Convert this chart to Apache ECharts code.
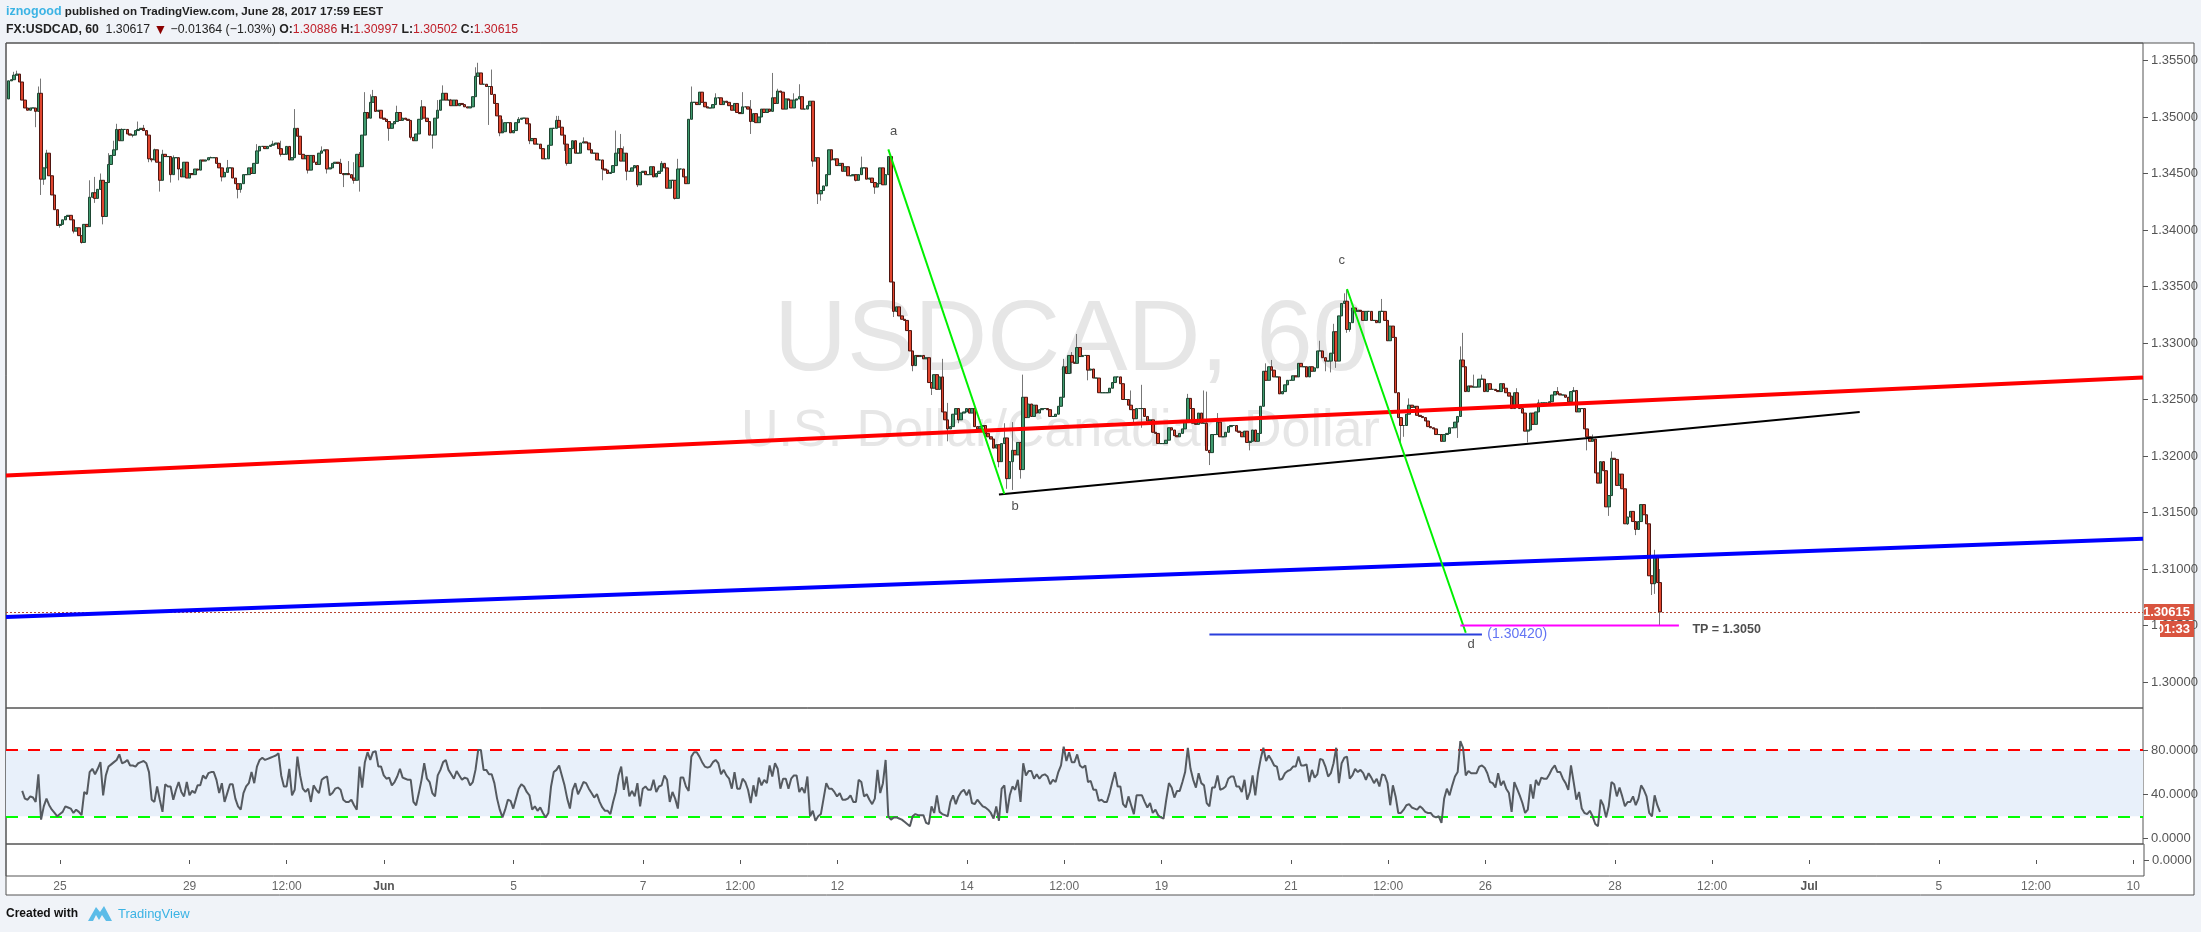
<!DOCTYPE html>
<html><head><meta charset="utf-8">
<style>html,body{margin:0;padding:0;background:#f0f3f8}#c{width:2201px;height:932px}</style>
<script src="https://cdn.jsdelivr.net/npm/echarts@6/dist/echarts.min.js"></script>
</head><body><div id="c"></div>
<script>
// All candle values are in pips above 1.3000 (1 pip = 0.0001), hourly bars from bar 1.
const pipBase = 1.3, pipSize = 0.0001;
const firstOpenPips = 516;
const closePips = [
532,533,537,538,531,515,508,506,508,508,
505,521,445,455,468,448,431,418,404,405,
409,412,413,409,399,402,395,389,405,403,
429,433,428,436,444,412,442,458,466,471,
489,479,489,489,485,484,484,488,489,490,
488,484,463,462,471,460,444,467,465,465,
449,464,464,454,447,460,446,450,449,454,
453,462,461,462,464,464,464,459,455,447,
451,455,455,446,441,436,441,449,449,455,
450,459,470,474,474,472,474,475,476,477,
472,467,467,474,462,464,490,483,467,463,
466,453,466,460,458,468,470,471,454,455,
459,460,459,450,449,450,449,446,444,467,
456,484,504,499,513,518,505,506,499,498,
496,490,494,496,504,497,499,498,497,482,
479,485,498,509,499,496,484,484,499,506,
515,521,515,515,510,515,510,512,511,509,
508,509,518,536,539,529,529,527,527,520,
512,501,486,487,495,495,486,488,495,498,
499,499,494,479,481,476,476,472,463,463,
475,490,490,497,491,484,476,459,472,479,
468,468,477,478,477,471,468,468,462,462,
454,453,450,451,457,468,472,461,468,452,
452,455,457,440,451,452,449,449,456,447,
450,452,459,455,437,444,444,428,454,454,
447,441,498,513,513,511,522,513,509,508,
508,511,517,517,511,514,513,510,506,512,
504,503,509,509,507,496,503,495,500,507,
504,507,505,517,512,523,522,507,516,515,
508,515,516,518,507,507,510,514,461,464,
432,435,439,449,471,462,463,457,459,452,
456,448,448,449,444,449,455,455,445,446,
442,438,441,455,440,449,465,354,328,332,
324,321,320,311,293,280,289,288,289,286,
287,265,260,272,259,270,239,232,224,226,
237,242,232,238,239,242,238,242,226,224,
226,227,220,217,215,207,210,195,211,216,
180,195,205,201,212,188,252,234,246,235,
245,238,241,242,242,241,235,235,237,244,
252,279,273,289,283,282,296,288,289,289,
276,277,269,269,256,256,256,256,260,265,
270,270,264,250,250,245,241,233,242,242,
242,235,231,232,221,220,211,211,211,214,
225,223,218,217,220,224,231,251,242,229,
228,238,229,229,205,203,219,219,230,217,
217,221,226,227,227,222,221,217,222,212,
213,223,213,220,244,275,267,279,276,270,
270,255,257,263,267,267,271,270,282,279,
279,270,279,275,278,293,293,287,284,284,
291,310,284,324,335,337,312,318,331,328,
329,328,320,328,328,320,320,318,328,328,
320,302,315,305,256,234,227,227,237,245,
243,244,236,235,234,231,226,225,224,219,
219,213,219,220,225,225,230,235,285,279,
257,262,261,261,261,268,268,257,264,259,
259,258,257,264,260,256,253,242,256,244,
242,238,222,223,238,228,239,247,247,247,
247,248,254,257,255,254,254,252,248,257,
258,239,242,242,224,217,213,215,185,176,
195,187,155,165,198,197,174,184,171,140,
146,151,142,135,142,157,148,140,94,87,
112,88,62];
// Visible wick tips, bar index : pips
const highPips = {3:540,4:541,12:527,13:534,15:471,31:444,33:447,35:450,38:468,40:479,41:494,43:490,49:496,51:493,55:472,58:471,62:466,76:465,82:462,93:476,99:479,102:479,107:507,108:490,117:474,124:463,127:461,129:460,131:469,133:522,135:520,136:524,145:510,154:515,160:515,162:528,165:516,174:544,175:548,180:542,184:498,190:500,204:501,205:501,214:482,226:488,228:485,229:474,243:461,249:463,254:527,257:522,263:521,273:522,276:515,284:539,286:525,292:521,294:529,317:465,347:286,349:247,370:229,373:230,377:272,392:286,395:292,397:308,417:258,421:263,438:255,444:258,445:257,449:238,467:282,469:285,487:302,492:317,496:344,497:347,510:339,520:251,539:297,540:309,544:272,547:272,560:260,568:250,575:261,581:261,588:219,595:204,611:117,613:100};
const lowPips = {11:491,13:431,14:440,20:402,25:397,28:388,33:424,36:405,38:450,47:482,53:460,54:460,57:434,61:442,64:444,80:443,86:428,87:433,102:465,112:450,119:450,125:438,129:441,131:434,142:479,150:480,152:480,158:472,179:493,183:483,194:476,207:470,208:457,221:444,230:444,234:438,248:427,276:485,299:456,301:423,302:426,315:443,322:432,329:323,336:275,343:254,349:213,353:229,363:214,368:190,371:171,373:170,376:180,395:273,401:267,418:228,421:225,446:192,461:205,489:275,491:274,493:278,497:309,498:310,517:210,518:217,538:216,564:212,586:205,594:147,601:139,604:130,610:77,611:78,613:50};

// RSI(7) readings: three runs, each with the bar index it starts at
const rsiRunAStart = 6;
const rsiRunA = [43,36,35,38,37,33,58,17,29,36,30,26,23,20,22,24,29,28,27,23,26,24,21,42,40,60,63,58,63,69,39,57,65,67,69,71,76,68,69,71,66,66,65,68,69,70,68,60,35,33,47,35,24,49,47,47,35,44,51,42,38,51,39,43,41,48,48,57,54,59,60,60,53,41,50,33,41,49,49,36,29,26,41,47,50,60,50,65,71,73,71,72,73,74,75,77,57,47,47,63,39,44,74,57,45,42,45,33,48,44,41,53,55,56,39,41,45,46,44,35,33,33,35,30,26,65,46,69,78,71,78,79,65,65,57,54,55,48,51,56,63,55,54,53,53,33,30,41,53,68,54,51,41,38,57,62,69,71,62,58,54,61,57,53,55,54,48,51,62,80,80,62,62,58,58,50,36,26,19,26,35,34,27,36,45,49,47,42,39,26,29,25,28,23,19,23,47,60,62,66,57,48,36,27,44,50,40,45,51,50,45,41,37,40,33,28,25,25,22,33,42,57,65,44,56,38,43,38,50,29,45,47,44,44,53,42,47,48,57,53,33,42,36,27,55,55,47,43,74,78,78,78,75];
const rsiRunBStart = 257;
const rsiRunB = [74,69,65,64,65,69,71,68,58,62,57,54,45,60,45,45,54,51,44,32,48,38,55,48,53,50,66,56,68,63,45,54,54,45,54,57,57,42,46,41,56,20,25,16,20,22,36,50,45,45,42,38,41,35,35,36,39,33,33,53,51,38,40,35,31,36,62,41,50,71,20,17,19,19,18,17,15,13,11,20,22,21,21,21,14,13,29,23,39,24,22,21,20,33,39,31,38,42,44,39,44,32,31,35,32,29,28,26,23,18,29,16,45,48,23,39,47,44,53,33,68,57,61,61,54,58,54,57,58,56,49,53,51,60,66,83,70,78,69,69,76,66,64,66,51,52,44,44,34,35,33,33,41,51,60,47,47,31,28,38,30,22,39,39,39,33,28,32,23,26,21,19,18,35,50,46,37,43,43,51,60,82,63,53,46,59,50,48,32,29,46,46,57,44,45,47,54,56,56,47,47,42,53,35,42,57,39,59,72,82,70,75,71,66,65,53,54,59,61,62,65,65,74,66,66,67,51,62,55,58,72,71,65,56,59,68,82,50,68,73,74,54,57,63,60,62,59,53,59,55,50,54,47,58,57,50,30,48,38,23,16];
const rsiRunCStart = 517;
const rsiRunC = [23,26,30,31,28,27,26,29,27,24,23,23,20,19,20,14,36,45,39,48,56,60,88,82,57,61,59,59,59,65,66,64,59,51,50,46,59,48,52,45,41,24,51,45,39,32,23,26,49,36,53,48,55,54,54,58,63,66,60,60,54,50,44,66,51,35,42,27,23,22,25,20,13,11,35,30,19,29,51,49,38,46,38,29,33,33,38,30,36,48,44,38,23,20,39,30,24];

// Time axis labels by bar index
const timeTickBars = [20,68,104,140,188,236,272,308,356,392,428,476,512,548,596,632,668,716,752,788];
const timeTickLabels = ['25','29','12:00','Jun','5','7','12:00','12','14','12:00','19','21','12:00','26','28','12:00','Jul','5','12:00','10'];
const barSlots = 793;

const priceTicks = [1.30,1.305,1.31,1.315,1.32,1.325,1.33,1.335,1.34,1.345,1.35,1.355];
const rsiTicks = [0,40,80];
const lastPrice = 1.30615, rsiUpper = 80, rsiLower = 20;

// Drawings: [bar index, price]
const redTrend   = [[0,1.31827],[792,1.32695]];
const blueTrend  = [[0,1.30575],[792,1.31268]];
const blackTrend = [[368,1.31660],[687,1.32390]];
const greenAB    = [[327,1.34714],[370,1.31664]];
const greenCD    = [[497,1.33478],[541,1.30436]];
const tpLine     = [[539,1.3050],[620,1.3050]];
const targetLine = [[446,1.3042],[547,1.3042]];
const lastLine   = [[0,lastPrice],[792,lastPrice]];
const waveLabels = [[329,1.34870,'a'],[374,1.31555,'b'],[495,1.33735,'c'],[543,1.30330,'d']];
const tpLabel = [625,1.30466,'TP = 1.3050'];
const targetLabel = [549,1.30425,'(1.30420)'];

const toPrice = p => +(pipBase + p*pipSize).toFixed(5);
const wickData = [], bodyData = [];
closePips.forEach((c,k)=>{
  const i = k+1, o = k===0 ? firstOpenPips : closePips[k-1];
  const top = Math.max(o,c), bot = Math.min(o,c);
  const hi = Math.max(top, highPips[i] ?? top), lo = Math.min(bot, lowPips[i] ?? bot);
  wickData.push([i,toPrice(o),toPrice(c),toPrice(lo),toPrice(hi)]);
  bodyData.push([i,toPrice(o),toPrice(c),toPrice(bot),toPrice(top)]);
});
const rsiData = new Array(barSlots).fill(null);
[[rsiRunAStart,rsiRunA],[rsiRunBStart,rsiRunB],[rsiRunCStart,rsiRunC]].forEach(([s,a])=>a.forEach((v,k)=>{ if(s+k<=613) rsiData[s+k]=v; }));
const slots = Array.from({length:barSlots},(_,i)=>String(i));
const tickSet = new Map(timeTickBars.map((b,k)=>[b,timeTickLabels[k]]));

const axisGrey = '#555', FONT = '"Liberation Sans",Arial,sans-serif';
const hiddenX = g => ({type:'category',gridIndex:g,data:slots,boundaryGap:false,axisLine:{show:false},axisTick:{show:false},axisLabel:{show:false},splitLine:{show:false}});
const yBase = {type:'value',position:'right',scale:true,splitLine:{show:false},axisLine:{show:false},
  axisTick:{show:true,length:5,lineStyle:{color:axisGrey}}};
const trend = (name,data,color,width,z,type)=>({name,type:'line',xAxisIndex:0,yAxisIndex:0,data,showSymbol:false,symbol:'none',
  lineStyle:{color,width,type:type||'solid'},z:z||5,silent:true,animation:false,clip:true});
const noteLabel = (d,color,size,pos,weight)=>({type:'scatter',xAxisIndex:0,yAxisIndex:0,data:d.map(x=>({value:[x[0],x[1]],name:x[2]})),symbolSize:0,silent:true,z:6,
  label:{show:true,position:pos,distance:0,formatter:'{b}',color,fontSize:size,fontWeight:weight||'normal',fontFamily:FONT}});

const chart = echarts.init(document.getElementById('c'),null,{renderer:'canvas'});
chart.setOption({
  animation:false,backgroundColor:'#f0f3f8',
  grid:[
    {left:6,top:43,width:2188,height:852,show:true,backgroundColor:'#fff',borderColor:axisGrey,borderWidth:1,z:0},
    {left:6,top:43,width:2138,height:665,show:true,backgroundColor:'transparent',borderColor:axisGrey,borderWidth:1},
    {left:6,top:708,width:2138,height:136,show:true,backgroundColor:'transparent',borderColor:axisGrey,borderWidth:1},
    {left:6,top:844,width:2138,height:32,show:true,backgroundColor:'transparent',borderColor:axisGrey,borderWidth:1}
  ],
  xAxis:[hiddenX(1),hiddenX(2),Object.assign(hiddenX(3),{
    axisTick:{show:true,length:4,interval:i=>tickSet.has(i),lineStyle:{color:axisGrey}},
    axisLabel:{show:true,interval:i=>tickSet.has(i),margin:5,color:'#666',fontSize:12,fontFamily:FONT,
      formatter:(v,i)=>{const t=tickSet.get(+v);return (t==='Jun'||t==='Jul')?'{b|'+t+'}':t;},rich:{b:{fontWeight:'bold',color:'#555',fontSize:12,fontFamily:FONT}}}
  })],
  yAxis:[
    Object.assign({},yBase,{gridIndex:1,min:1.29770,max:1.35655,
      axisTick:{show:true,length:5,lineStyle:{color:axisGrey},customValues:priceTicks},
      axisLabel:{customValues:priceTicks,formatter:v=>(+v).toFixed(5),color:'#555',fontSize:13,margin:8,fontFamily:FONT}}),
    Object.assign({},yBase,{gridIndex:2,min:-5.07,max:118,
      axisTick:{show:true,length:5,lineStyle:{color:axisGrey},customValues:rsiTicks},
      axisLabel:{customValues:rsiTicks,formatter:v=>(+v).toFixed(4),color:'#555',fontSize:13,margin:8,fontFamily:FONT}}),
    Object.assign({},yBase,{gridIndex:3,min:-1,max:1,
      axisTick:{show:true,length:5,lineStyle:{color:axisGrey},customValues:[0]},
      axisLabel:{customValues:[0],formatter:v=>(+v).toFixed(4),color:'#555',fontSize:13,margin:8,fontFamily:FONT}})
  ],
  graphic:{elements:[
    {type:'text',z:1,x:774,y:342,style:{text:'USDCAD, 60',font:'101px "Liberation Sans",Arial,sans-serif',fill:'#e6e6e6',textVerticalAlign:'middle'},silent:true},
    {type:'text',z:1,x:741,y:432,style:{text:'U.S. Dollar/Canadian Dollar',font:'52px "Liberation Sans",Arial,sans-serif',fill:'#e6e6e6',textVerticalAlign:'middle'},silent:true},
    {type:'text',z:20,x:6,y:12,style:{textVerticalAlign:'middle',
      text:'{a|iznogood} {k|published on TradingView.com, June 28, 2017 17:59 EEST}',
      rich:{a:{fill:'#3bb3e4',font:'bold 12.5px '+FONT},k:{fill:'#222',font:'bold 11.6px '+FONT}}},silent:true},
    {type:'text',z:20,x:6,y:30,style:{textVerticalAlign:'middle',
      text:'{k|FX:USDCAD, 60}  {n|1.30617} {t|▼} {n|−0.01364 (−1.03%)} {k|O:}{r|1.30886} {k|H:}{r|1.30997} {k|L:}{r|1.30502} {k|C:}{r|1.30615}',
      rich:{k:{fill:'#222',font:'bold 12.3px '+FONT},n:{fill:'#222',font:'12.3px '+FONT},r:{fill:'#c0202a',font:'12.3px '+FONT},t:{fill:'#8b0000',font:'14px '+FONT}}},silent:true},
    {type:'rect',z:20,shape:{x:2144,y:604,width:50,height:16},style:{fill:'#d9543f'},silent:true},
    {type:'text',z:21,x:2190,y:612,style:{text:'1.30615',fill:'#fff',font:'bold 13px '+FONT,textAlign:'right',textVerticalAlign:'middle'},silent:true},
    {type:'rect',z:20,shape:{x:2160,y:621,width:34,height:16},style:{fill:'#d9543f'},silent:true},
    {type:'text',z:21,x:2190,y:629,style:{text:'01:33',fill:'#fff',font:'bold 13px '+FONT,textAlign:'right',textVerticalAlign:'middle'},silent:true},
    {type:'text',z:20,x:6,y:914,style:{text:'Created with',fill:'#111',font:'bold 12px '+FONT,textVerticalAlign:'middle'},silent:true},
    {type:'polygon',z:20,shape:{points:[[88,921],[96,907],[100,912],[104,906],[112,921],[106,921],[102,915],[99,920],[96,915],[93,921]]},style:{fill:'#5cbce8'},silent:true},
    {type:'text',z:20,x:118,y:914,style:{text:'TradingView',fill:'#3bb3e4',font:'13px '+FONT,textVerticalAlign:'middle'},silent:true}
  ]},
  series:[
    trend('last',lastLine,'#b5422e',1,3,[2,2]),
    {name:'wicks',type:'candlestick',large:false,xAxisIndex:0,yAxisIndex:0,data:wickData,encode:{x:0,y:[1,2,3,4]},barWidth:1,z:3,progressive:0,silent:true,
      itemStyle:{color:'#777',color0:'#777',borderColor:'#777',borderColor0:'#777',borderWidth:1}},
    {name:'USDCAD',type:'candlestick',large:false,xAxisIndex:0,yAxisIndex:0,data:bodyData,encode:{x:0,y:[1,2,3,4]},barWidth:3,z:4,progressive:0,silent:true,
      itemStyle:{color:'#3f9a6e',color0:'#e0452e',borderColor:'#1d4632',borderColor0:'#4f1510',borderWidth:1}},
    trend('red',redTrend,'#ff0000',4),
    trend('blue',blueTrend,'#0000ff',4),
    trend('black',blackTrend,'#000',2),
    trend('ab',greenAB,'#00f000',2),
    trend('cd',greenCD,'#00f000',2),
    trend('tp',tpLine,'#ff00ff',2),
    trend('target',targetLine,'#2a3fdc',2),
    noteLabel(waveLabels,'#222',13,'inside'),
    noteLabel([tpLabel],'#222',12.5,'right','bold'),
    noteLabel([targetLabel],'#3a50f0',14,'right'),
    {name:'RSI',type:'line',xAxisIndex:1,yAxisIndex:1,data:rsiData,connectNulls:true,showSymbol:false,symbol:'none',z:5,silent:true,
      lineStyle:{color:'#555a60',width:2},
      markArea:{silent:true,itemStyle:{color:'#e8f0fa'},data:[[{yAxis:rsiUpper},{yAxis:rsiLower}]],z:1},
      markLine:{silent:true,symbol:'none',label:{show:false},data:[
        {yAxis:rsiUpper,lineStyle:{color:'#ff0000',type:[12,10],width:2}},
        {yAxis:rsiLower,lineStyle:{color:'#00ff00',type:[12,10],width:2}}]}},
    {name:'empty',type:'line',xAxisIndex:2,yAxisIndex:2,data:[],silent:true}
  ]
});
</script></body></html>
